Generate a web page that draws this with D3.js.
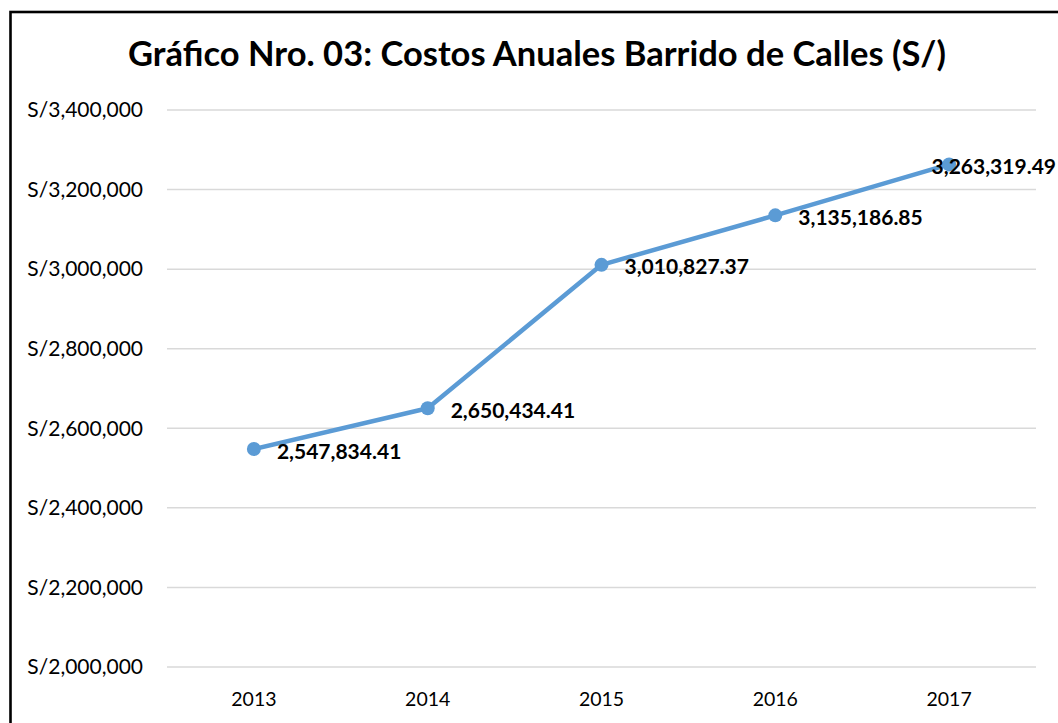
<!DOCTYPE html>
<html>
<head>
<meta charset="utf-8">
<script src="https://cdn.jsdelivr.net/npm/d3@7/dist/d3.min.js"></script>
<style>
  html, body { margin: 0; padding: 0; background: #fff; }
  svg { display: block; }
  text { font-family: Lato, "Open Sans", sans-serif; fill: #000; }
</style>
</head>
<body>
<svg id="chart" width="1058" height="723"></svg>
<script>
// Annual street-sweeping costs (S/)
const years = ["2013", "2014", "2015", "2016", "2017"];
const costs = [2547834.41, 2650434.41, 3010827.37, 3135186.85, 3263319.49];
const yTicks = [2000000, 2200000, 2400000, 2600000, 2800000, 3000000, 3200000, 3400000];
const titleText = "Gráfico Nro. 03: Costos Anuales Barrido de Calles (S/)";

const W = 1058, H = 723;
const margin = { left: 167, right: 22, top: 110, bottom: 56 };
const svg = d3.select("#chart");

// frame around the chart
svg.append("rect")
  .attr("x", 10.5).attr("y", 12)
  .attr("width", W + 20).attr("height", H + 20)
  .attr("fill", "none").attr("stroke", "#000").attr("stroke-width", 2.6);

// shrink or grow a text element's font so it spans a given width
function fitWidth(sel, target) {
  const node = sel.node();
  const fs = parseFloat(sel.attr("font-size"));
  const w = node.getComputedTextLength();
  sel.attr("font-size", (fs * target / w).toFixed(2));
}

const title = svg.append("text")
  .attr("x", 537).attr("y", 66)
  .attr("text-anchor", "middle")
  .attr("font-weight", "bold")
  .attr("font-size", 36)
  .text(titleText);
fitWidth(title, 818);

const x = d3.scaleBand().domain(years).range([margin.left, W - margin.right]);
const y = d3.scaleLinear().domain([2000000, 3400000]).range([H - margin.bottom, margin.top]);

const fmtTick = v => "S/" + d3.format(",")(v);
const fmtVal = d3.format(",.2f");

// horizontal gridlines
svg.append("g")
  .selectAll("line")
  .data(yTicks)
  .join("line")
  .attr("x1", margin.left).attr("x2", W - margin.right)
  .attr("y1", d => y(d)).attr("y2", d => y(d))
  .attr("stroke", "#d9d9d9").attr("stroke-width", 1.5);

// y axis labels
const yAxis = svg.append("g")
  .attr("transform", `translate(${margin.left},0)`)
  .call(d3.axisLeft(y).tickValues(yTicks).tickFormat(fmtTick).tickSize(0).tickPadding(24));
yAxis.select(".domain").remove();
yAxis.selectAll("text")
  .attr("font-size", 21)
  .attr("font-family", "Lato, sans-serif")
  .attr("fill", "#000");

// x axis labels
const xAxis = svg.append("g")
  .attr("transform", `translate(0,${H - margin.bottom})`)
  .call(d3.axisBottom(x).tickSize(0).tickPadding(25));
xAxis.select(".domain").remove();
xAxis.selectAll("text")
  .attr("font-size", 19.5)
  .attr("font-family", "Lato, sans-serif")
  .attr("fill", "#000");

const cx = d => x(d) + x.bandwidth() / 2;
const pts = years.map((yr, i) => ({ yr, v: costs[i] }));

svg.append("path")
  .datum(pts)
  .attr("fill", "none")
  .attr("stroke", "#5B9BD5")
  .attr("stroke-width", 4.5)
  .attr("stroke-linejoin", "round")
  .attr("stroke-linecap", "round")
  .attr("d", d3.line().x(d => cx(d.yr)).y(d => y(d.v)));

svg.append("g")
  .selectAll("circle")
  .data(pts)
  .join("circle")
  .attr("cx", d => cx(d.yr))
  .attr("cy", d => y(d.v))
  .attr("r", 7)
  .attr("fill", "#5B9BD5");

// value labels to the right of each point, kept inside the chart
const labels = svg.append("g")
  .selectAll("text")
  .data(pts)
  .join("text")
  .attr("font-size", 21)
  .attr("font-weight", "bold")
  .attr("dominant-baseline", "central")
  .attr("y", d => y(d.v) + 1)
  .text(d => fmtVal(d.v));
labels.each(function (d) {
  const w = this.getComputedTextLength();
  d3.select(this).attr("x", Math.min(cx(d.yr) + 23, W - 2 - w));
});
</script>
</body>
</html>
